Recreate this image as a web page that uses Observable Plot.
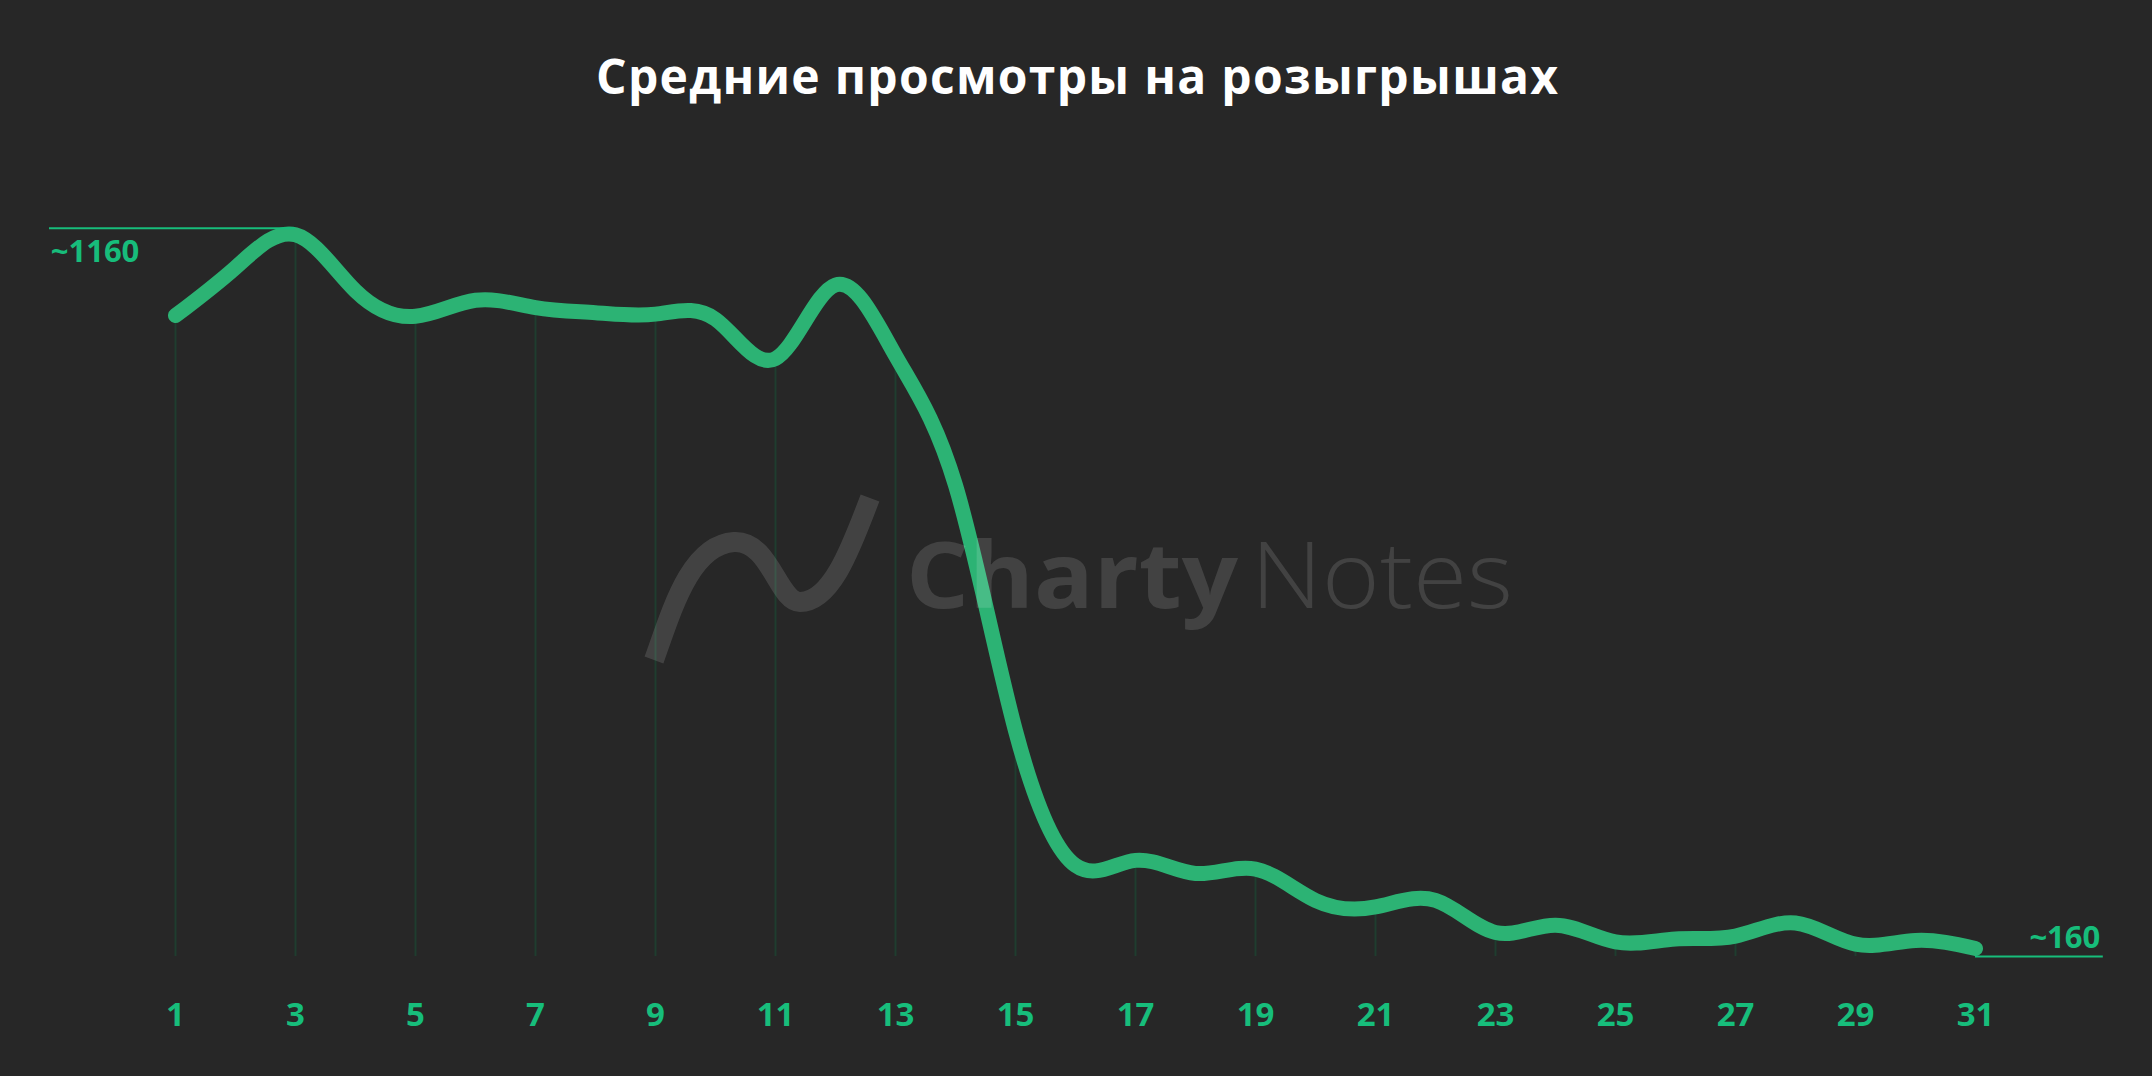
<!DOCTYPE html>
<html><head><meta charset="utf-8">
<script src="https://cdn.jsdelivr.net/npm/d3@7"></script>
<script src="https://cdn.jsdelivr.net/npm/@observablehq/plot@0.6"></script>
<style>
html,body{margin:0;padding:0;background:#272727;}
#wrap{position:relative;width:2152px;height:1076px;overflow:hidden;background:#272727;}
#title,#chart svg{display:block;}
#wm{position:absolute;left:0;top:0;pointer-events:none;}
</style></head><body>
<div id="wrap">
<svg id="title" width="2152" height="130"></svg>
<div id="chart"></div>
<svg id="wm" width="2152" height="1076"></svg>
</div>
<script>
// ---- data ----
const titleText = "Средние просмотры на розыгрышах";
const days = [1,2,3,4,5,6,7,8,9,10,11,12,13,14,15,16,17,18,19,20,21,22,23,24,25,26,27,28,29,30,31];
const views = [1040,1106,1151,1074,1039,1061,1051,1044,1042,1035,981,1082,985,807,470,285,292,274,280,237,228,237,193,203,180,184,188,206,177,182,171];
const tickDays = [1,3,5,7,9,11,13,15,17,19,21,23,25,27,29,31];
const refValues = [1160, 160];
const refLabels = ["~1160", "~160"];
const watermarkWords = ["Charty", "Notes"];

const GREEN_TEXT = "#17bd7b";
const GREEN_LINE = "#2cb374";
const GRID = "#1f3d2f";
const FONT = "'Open Sans', 'Noto Sans', sans-serif";

// ---- title ----
d3.select("#title").append("text")
  .attr("x", 1077).attr("y", 94)
  .attr("text-anchor", "middle")
  .attr("font-family", FONT).attr("font-weight", 700).attr("font-size", 48)
  .attr("fill", "#ffffff")
  .attr("textLength", 962).attr("lengthAdjust", "spacing")
  .text(titleText);

// ---- chart ----
const data = days.map((d, i) => ({day: d, views: views[i]}));
const oddData = data.filter(d => tickDays.includes(d.day));
const yMin = refValues[1], yMax = refValues[0];

const chart = Plot.plot({
  width: 2152,
  height: 946,
  marginTop: 97.7,
  marginBottom: 120,
  marginLeft: 175,
  marginRight: 177,
  x: {domain: [days[0], days[days.length - 1]]},
  y: {domain: [yMin, yMax], axis: null},
  style: {background: "transparent", color: GREEN_TEXT, fontFamily: FONT, overflow: "visible"},
  marks: [
    Plot.ruleX(oddData, {x: "day", y1: yMin, y2: "views", stroke: GRID, strokeWidth: 2}),
    Plot.line(data, {x: "day", y: "views", curve: "natural", stroke: GREEN_LINE,
      strokeWidth: 15, strokeLinecap: "round", strokeLinejoin: "round"}),
    Plot.ruleY([refValues[0]], {x1: -1.1, x2: 3, stroke: GREEN_TEXT, strokeWidth: 2}),
    Plot.ruleY([refValues[1]], {x1: 31, x2: 33.13, stroke: GREEN_TEXT, strokeWidth: 2}),
    Plot.text([refLabels[0]], {x: -1.08, y: refValues[0], text: d => d, textAnchor: "start",
      lineAnchor: "middle", dy: 24, fontSize: 31, fontWeight: 700, fill: GREEN_TEXT}),
    Plot.text([refLabels[1]], {x: 33.08, y: refValues[1], text: d => d, textAnchor: "end",
      lineAnchor: "middle", dy: -18, fontSize: 31, fontWeight: 700, fill: GREEN_TEXT}),
    Plot.axisX(tickDays, {tickSize: 0, tickPadding: 46, fontSize: 33, fontWeight: 700,
      color: GREEN_TEXT, tickFormat: d => String(d), label: null})
  ]
});
document.getElementById("chart").appendChild(chart);

// ---- watermark ----
const wm = d3.select("#wm");
wm.append("path")
  .attr("d", "M654,660 C672,610 690,545 734,542 C770,540 778,602 800,602 C832,602 852,545 870,498")
  .attr("fill", "none").attr("stroke", "#ffffff").attr("stroke-opacity", 0.13)
  .attr("stroke-width", 20).attr("stroke-linecap", "butt");
wm.append("text").attr("x", 906).attr("y", 608)
  .attr("font-family", FONT).attr("font-weight", 700).attr("font-size", 92)
  .attr("fill", "#ffffff").attr("fill-opacity", 0.13)
  .attr("textLength", 332).attr("lengthAdjust", "spacingAndGlyphs")
  .text(watermarkWords[0]);
wm.append("text").attr("x", 1251).attr("y", 608)
  .attr("font-family", FONT).attr("font-weight", 300).attr("font-size", 92)
  .attr("fill", "#ffffff").attr("fill-opacity", 0.13)
  .attr("textLength", 262).attr("lengthAdjust", "spacingAndGlyphs")
  .text(watermarkWords[1]);
</script>
</body></html>
